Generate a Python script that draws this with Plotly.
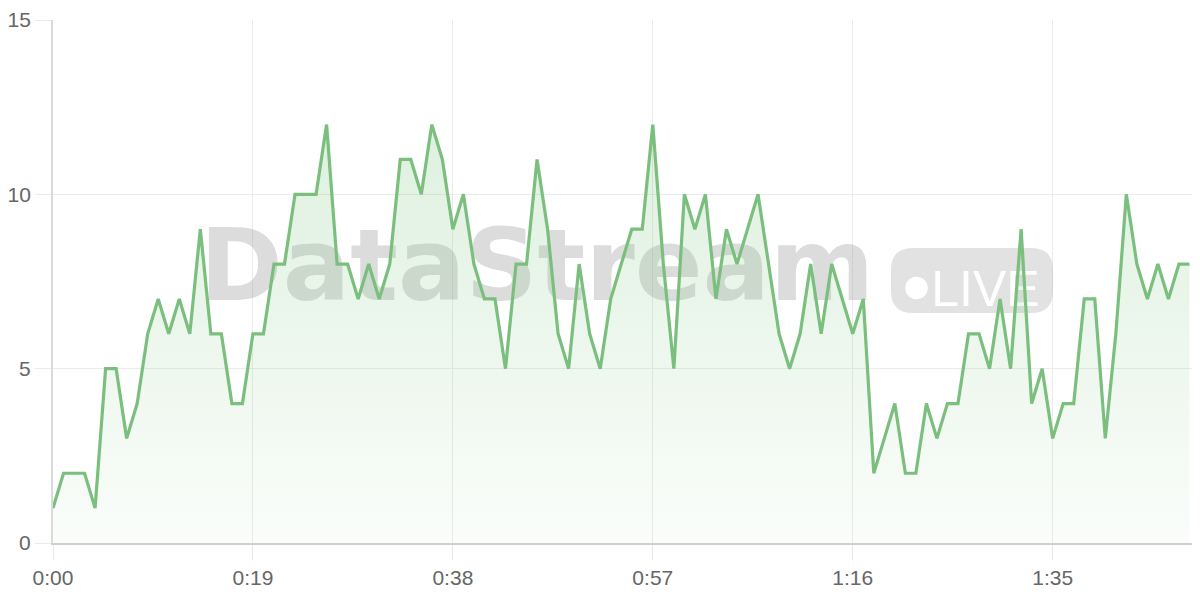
import plotly.graph_objects as go

# ---- data (one sample per second) ----
seconds = list(range(109))
values = [1, 2, 2, 2, 1, 5, 5, 3, 4, 6,
          7, 6, 7, 6, 9, 6, 6, 4, 4, 6,
          6, 8, 8, 10, 10, 10, 12, 8, 8, 7,
          8, 7, 8, 11, 11, 10, 12, 11, 9, 10,
          8, 7, 7, 5, 8, 8, 11, 9, 6, 5,
          8, 6, 5, 7, 8, 9, 9, 12, 8, 5,
          10, 9, 10, 7, 9, 8, 9, 10, 8, 6,
          5, 6, 8, 6, 8, 7, 6, 7, 2, 3,
          4, 2, 2, 4, 3, 4, 4, 6, 6, 5,
          7, 5, 9, 4, 5, 3, 4, 4, 7, 7,
          3, 6, 10, 8, 7, 8, 7, 8, 8]
x_tickvals = [0, 19, 38, 57, 76, 95]
x_ticktext = ["0:00", "0:19", "0:38", "0:57", "1:16", "1:35"]
y_tickvals = [0, 5, 10, 15]

# ---- layout geometry (page has an 8px body margin) ----
OFF = 8
W, H = 1192, 592
ML, MR, MT, MB = 45, 0, 12, 57
XR = [0, 109]
YR = [0, 15]
PL, PT = OFF + ML, OFF + MT            # screen coords of plot area
pw, ph = W - ML - MR, H - MT - MB
PB = PT + ph


def dx(px):
    return XR[0] + (px - PL) / pw * (XR[1] - XR[0])


def dy(py):
    return YR[0] + (PB - py) / ph * (YR[1] - YR[0])


def rounded_rect(px0, py0, px1, py1, r):
    x0, x1 = dx(px0), dx(px1)
    y0, y1 = dy(py1), dy(py0)
    rx = r / pw * (XR[1] - XR[0])
    ry = r / ph * (YR[1] - YR[0])
    return (f"M {x0+rx},{y1} L {x1-rx},{y1} Q {x1},{y1} {x1},{y1-ry} "
            f"L {x1},{y0+ry} Q {x1},{y0} {x1-rx},{y0} L {x0+rx},{y0} "
            f"Q {x0},{y0} {x0},{y0+ry} L {x0},{y1-ry} Q {x0},{y1} {x0+rx},{y1} Z")


green = "#7bbf7e"

fig = go.Figure()
fig.add_trace(go.Scatter(
    x=seconds, y=values, mode="lines",
    line=dict(color=green, width=3.2),
    fill="tozeroy",
    fillgradient=dict(type="vertical",
                      colorscale=[[0, "rgba(129,199,132,0.04)"],
                                  [1, "rgba(129,199,132,0.26)"]]),
    hoverinfo="skip", showlegend=False,
))

shapes = [
    # DataStream watermark text
    dict(type="rect", xref="x", yref="y", layer="between",
         x0=dx(177), x1=dx(897), y0=dy(314), y1=dy(202),
         line=dict(width=0), fillcolor="rgba(0,0,0,0)",
         label=dict(text="DataStream", textposition="middle center",
                    font=dict(family="DejaVu Sans", size=100, weight="bold",
                              color="rgba(150,150,150,0.33)"))),
    # LIVE badge
    dict(type="path", xref="x", yref="y", layer="between",
         path=rounded_rect(891, 248, 1053, 313, 22),
         line=dict(width=0), fillcolor="rgba(150,150,150,0.28)"),
    dict(type="circle", xref="x", yref="y", layer="between",
         x0=dx(905.2), x1=dx(927.8), y0=dy(299.3), y1=dy(276.7),
         line=dict(width=0), fillcolor="white"),
    dict(type="rect", xref="x", yref="y", layer="between",
         x0=dx(930), x1=dx(1041), y0=dy(313), y1=dy(254),
         line=dict(width=0), fillcolor="rgba(0,0,0,0)",
         label=dict(text="LIVE", textposition="middle center",
                    font=dict(family="Liberation Sans Narrow, Liberation Sans", size=50,
                              color="white"))),
]

fig.update_layout(
    width=W, height=H,
    margin=dict(l=ML, r=MR, t=MT, b=MB),
    paper_bgcolor="white", plot_bgcolor="white",
    shapes=shapes,
    font=dict(family="Liberation Sans, Arial, sans-serif", size=21, color="#666666"),
    xaxis=dict(range=XR, tickvals=x_tickvals, ticktext=x_ticktext,
               showgrid=True, gridcolor="#ebebeb", gridwidth=1,
               zeroline=False, showline=True, linecolor="#cfcfcf", linewidth=2,
               ticks="outside", ticklen=15, tickcolor="#e6e6e6", tickwidth=1,
               fixedrange=True),
    yaxis=dict(range=YR, tickvals=y_tickvals,
               showgrid=True, gridcolor="#ebebeb", gridwidth=1,
               zeroline=False, showline=True, linecolor="#dadada", linewidth=2,
               ticks="outside", ticklen=16, tickcolor="#ebebeb", tickwidth=1,
               fixedrange=True),
)

fig.write_html("out.html")
